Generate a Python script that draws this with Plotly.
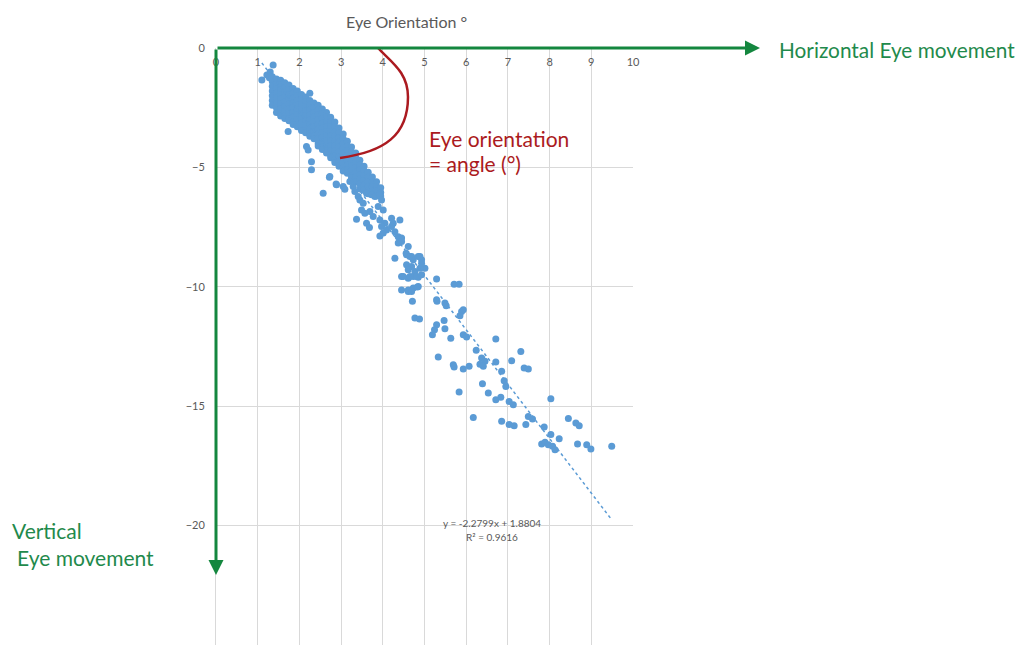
import plotly.graph_objects as go

# ---- data ----
x_ticks = [0, 1, 2, 3, 4, 5, 6, 7, 8, 9, 10]
y_ticks = [0, -5, -10, -15, -20, -25]

# dense band of points (x, y)
cluster_points = [
    (1.10, -1.34), (1.22, -1.13), (1.30, -1.00), (1.37, -0.71), (1.28, -1.25),
    (1.35, -1.2), (1.35, -1.4), (1.35, -1.6), (1.35, -1.8), (1.35, -2.0), (1.35, -2.2), (1.35, -2.4),
    (1.45, -1.3), (1.45, -1.5), (1.45, -1.7), (1.45, -1.9), (1.45, -2.1), (1.45, -2.3), (1.45, -2.5), (1.45, -2.7),
    (1.55, -1.35), (1.55, -1.55), (1.55, -1.75), (1.55, -1.95), (1.55, -2.15), (1.55, -2.35), (1.55, -2.55), (1.55, -2.75), (1.55, -2.85),
    (1.65, -1.45), (1.65, -1.65), (1.65, -1.85), (1.65, -2.05), (1.65, -2.25), (1.65, -2.45), (1.65, -2.65), (1.65, -2.85), (1.65, -2.95),
    (1.75, -1.55), (1.75, -1.75), (1.75, -1.95), (1.75, -2.15), (1.75, -2.35), (1.75, -2.55), (1.75, -2.75), (1.75, -2.95), (1.75, -3.05),
    (1.85, -1.7), (1.85, -1.9), (1.85, -2.1), (1.85, -2.3), (1.85, -2.5), (1.85, -2.7), (1.85, -2.9), (1.85, -3.1), (1.85, -3.2),
    (1.95, -1.8), (1.95, -2.0), (1.95, -2.2), (1.95, -2.4), (1.95, -2.6), (1.95, -2.8), (1.95, -3.0), (1.95, -3.2), (1.95, -3.3),
    (2.05, -1.95), (2.05, -2.15), (2.05, -2.35), (2.05, -2.55), (2.05, -2.75), (2.05, -2.95), (2.05, -3.15), (2.05, -3.35), (2.05, -3.45),
    (2.15, -2.05), (2.15, -2.25), (2.15, -2.45), (2.15, -2.65), (2.15, -2.85), (2.15, -3.05), (2.15, -3.25), (2.15, -3.45), (2.15, -3.55),
    (2.25, -2.2), (2.25, -2.4), (2.25, -2.6), (2.25, -2.8), (2.25, -3.0), (2.25, -3.2), (2.25, -3.4), (2.25, -3.6), (2.25, -3.7),
    (2.35, -2.3), (2.35, -2.5), (2.35, -2.7), (2.35, -2.9), (2.35, -3.1), (2.35, -3.3), (2.35, -3.5), (2.35, -3.7), (2.35, -3.8),
    (2.45, -2.4), (2.45, -2.6), (2.45, -2.8), (2.45, -3.0), (2.45, -3.2), (2.45, -3.4), (2.45, -3.6), (2.45, -3.8), (2.45, -4.0), (2.45, -4.1),
    (2.55, -2.55), (2.55, -2.75), (2.55, -2.95), (2.55, -3.15), (2.55, -3.35), (2.55, -3.55), (2.55, -3.75), (2.55, -3.95), (2.55, -4.15), (2.55, -4.25),
    (2.65, -2.7), (2.65, -2.9), (2.65, -3.1), (2.65, -3.3), (2.65, -3.5), (2.65, -3.7), (2.65, -3.9), (2.65, -4.1), (2.65, -4.3), (2.65, -4.4),
    (2.75, -2.9), (2.75, -3.1), (2.75, -3.3), (2.75, -3.5), (2.75, -3.7), (2.75, -3.9), (2.75, -4.1), (2.75, -4.3), (2.75, -4.5), (2.75, -4.6),
    (2.85, -3.1), (2.85, -3.3), (2.85, -3.5), (2.85, -3.7), (2.85, -3.9), (2.85, -4.1), (2.85, -4.3), (2.85, -4.5), (2.85, -4.7), (2.85, -4.8),
    (2.95, -3.35), (2.95, -3.55), (2.95, -3.75), (2.95, -3.95), (2.95, -4.15), (2.95, -4.35), (2.95, -4.55), (2.95, -4.75), (2.95, -4.95),
    (3.05, -3.6), (3.05, -3.8), (3.05, -4.0), (3.05, -4.2), (3.05, -4.4), (3.05, -4.6), (3.05, -4.8), (3.05, -5.0), (3.05, -5.15),
    (3.15, -3.9), (3.15, -4.1), (3.15, -4.3), (3.15, -4.5), (3.15, -4.7), (3.15, -4.9), (3.15, -5.1), (3.15, -5.25),
    (3.25, -4.15), (3.25, -4.35), (3.25, -4.55), (3.25, -4.75), (3.25, -4.95), (3.25, -5.15), (3.25, -5.35), (3.25, -5.45),
    (3.35, -4.4), (3.35, -4.6), (3.35, -4.8), (3.35, -5.0), (3.35, -5.2), (3.35, -5.4), (3.35, -5.6),
    (3.45, -4.7), (3.45, -4.9), (3.45, -5.1), (3.45, -5.3), (3.45, -5.5), (3.45, -5.7), (3.45, -5.9),
    (3.55, -4.95), (3.55, -5.15), (3.55, -5.35), (3.55, -5.55), (3.55, -5.75), (3.55, -5.95),
    (3.65, -5.2), (3.65, -5.4), (3.65, -5.6), (3.65, -5.8), (3.65, -6.0), (3.65, -6.1),
    (3.75, -5.4), (3.75, -5.6), (3.75, -5.8), (3.75, -6.0), (3.75, -6.1),
    (3.85, -5.6), (3.85, -5.8), (3.85, -6.0), (3.85, -6.2),
    (3.95, -5.85), (3.95, -6.05), (3.95, -6.2),
]

# scattered points outside the dense band (x, y)
sparse_points = [
    (2.25, -1.90), (1.73, -3.50), (2.17, -4.13), (2.21, -4.27), (2.29, -4.76), (2.29, -5.10),
    (2.72, -5.41), (2.89, -5.73), (2.57, -6.08),
    (2.73, -5.38), (2.88, -5.70), (3.05, -5.80), (3.09, -5.91), (3.21, -5.59), (3.29, -5.80),
    (3.33, -6.01), (3.41, -6.22), (3.45, -6.36), (3.53, -6.50), (3.61, -6.08), (3.73, -6.15),
    (3.81, -6.22), (3.92, -6.15), (3.97, -6.36), (3.89, -6.64), (4.01, -6.78), (3.37, -7.17),
    (3.61, -7.34), (3.68, -7.52), (3.49, -6.78), (3.57, -6.92), (3.69, -6.85), (3.77, -7.06),
    (3.93, -7.20), (4.05, -7.34), (4.21, -7.13), (4.25, -7.34), (4.41, -7.20), (3.97, -7.48),
    (4.09, -7.62), (4.21, -7.48), (4.29, -7.69), (4.37, -7.90), (4.45, -7.96), (4.37, -8.17),
    (4.45, -8.10), (3.93, -7.87), (4.01, -7.75), (4.29, -8.80),
    (4.56, -8.59), (4.61, -8.31), (4.65, -8.73), (4.73, -8.87), (4.85, -8.73), (4.93, -8.87),
    (5.01, -9.22), (4.57, -9.08), (4.69, -9.15), (4.61, -9.29), (4.77, -9.36), (4.89, -9.22),
    (4.45, -9.57), (4.61, -9.64), (4.73, -9.57), (4.85, -9.60), (4.45, -10.13), (4.61, -10.20),
    (4.73, -10.05), (4.85, -9.99), (4.57, -8.66), (4.69, -8.73), (4.89, -8.73), (4.93, -9.01),
    (4.49, -9.57), (4.65, -9.57), (4.81, -9.57), (4.93, -9.50), (4.61, -10.13), (4.69, -10.20),
    (4.83, -10.01),
    (5.29, -9.67), (5.71, -9.89), (5.83, -9.89), (5.29, -10.54), (5.30, -10.61), (5.49, -10.68),
    (5.52, -10.79), (5.89, -11.03), (5.93, -10.96), (5.85, -11.21), (5.47, -11.41), (5.29, -11.59),
    (5.24, -11.80), (5.19, -12.01), (5.49, -11.76), (5.93, -12.01), (6.01, -12.10), (5.63, -12.15),
    (6.71, -12.19), (4.77, -11.31), (4.88, -11.35), (4.71, -10.61), (6.24, -12.66), (7.31, -12.71),
    (7.09, -13.10), (6.71, -13.15), (6.37, -12.98), (6.45, -13.12), (6.33, -13.24), (6.41, -13.33),
    (5.33, -12.94), (5.69, -13.26), (5.71, -13.36), (5.93, -13.44), (6.07, -13.33), (7.39, -13.40),
    (7.49, -13.44), (6.85, -13.54), (6.91, -13.93), (6.95, -14.17), (5.83, -14.41), (6.39, -14.06),
    (6.53, -14.45), (6.71, -14.73), (6.83, -14.63), (7.03, -14.80), (7.13, -14.94), (8.03, -14.69),
    (6.17, -15.47), (6.85, -15.63), (7.03, -15.77), (7.15, -15.82), (7.43, -15.77), (7.49, -15.43),
    (7.59, -15.54), (7.87, -15.87), (8.45, -15.52), (8.63, -15.70), (8.71, -15.82), (8.03, -16.19),
    (8.23, -16.36), (7.81, -16.58), (7.89, -16.51), (7.97, -16.61), (8.07, -16.68), (8.13, -16.82),
    (8.67, -16.58), (8.89, -16.61), (8.99, -16.79), (9.49, -16.68),
]

trend_slope = -2.2799
trend_intercept = 1.8804
r_squared = 0.9616

# ---- figure ----
all_points = cluster_points + sparse_points
xs = [p[0] for p in all_points]
ys = [p[1] for p in all_points]

x_lo, x_hi = min(xs), max(xs)
trend_x = [x_lo, x_hi]
trend_y = [trend_slope * v + trend_intercept for v in trend_x]

BLUE = "#5b9bd5"
GRID = "#d9d9d9"
GRAY = "#595959"
GREEN = "#14873f"
GREEN_TXT = "#1f8a4c"
RED = "#ab1a20"
FONT = "Lato"

fig = go.Figure()
fig.add_trace(go.Scatter(
    x=xs, y=ys, mode="markers",
    marker=dict(color=BLUE, size=7, line=dict(width=0)),
    showlegend=False, hoverinfo="skip",
))
fig.add_trace(go.Scatter(
    x=trend_x, y=trend_y, mode="lines",
    line=dict(color=BLUE, width=1.5, dash="dot"),
    showlegend=False, hoverinfo="skip",
))

# page body has an 8px margin: figure is 1016x638 placed at (8,8)
fig.update_layout(
    width=1016, height=638,
    margin=dict(l=208, r=391, t=40, b=1),
    paper_bgcolor="white", plot_bgcolor="white",
    font=dict(family=FONT, color=GRAY),
    xaxis=dict(
        range=[0, 10], tickvals=x_ticks,
        anchor="free", position=1, side="bottom",
        ticklabelstandoff=6,
        tickfont=dict(size=11, color=GRAY),
        showgrid=True, gridcolor=GRID, gridwidth=1,
        zeroline=False, showline=False, ticks="",
    ),
    yaxis=dict(
        range=[-25, 0], tickvals=y_ticks,
        tickfont=dict(size=11, color=GRAY),
        showgrid=True, gridcolor=GRID, gridwidth=1,
        zeroline=False, showline=True, linecolor=GRID, linewidth=1,
        ticks="", ticklabelstandoff=8,
    ),
)

# red arc for the orientation angle
fig.add_shape(
    type="path", xref="x", yref="y",
    path="M 3.885,0 C 4.197,-0.586 4.604,-1.004 4.604,-2.05 "
         "C 4.604,-3.64 4.053,-4.351 2.974,-4.603",
    line=dict(color=RED, width=2.5),
)

annotations = [
    dict(text="Eye Orientation °", xref="paper", yref="paper", x=0.456, y=1.0436,
         xanchor="center", yanchor="middle", showarrow=False,
         font=dict(size=16, color=GRAY, family=FONT)),
    dict(text="", xref="paper", yref="paper", x=1.3046, y=1.0,
         ax=-544, ay=0, showarrow=True, arrowhead=2, arrowsize=1,
         arrowwidth=3, arrowcolor=GREEN, standoff=0, startstandoff=0),
    dict(text="", xref="paper", yref="paper", x=0.0, y=0.1173,
         ax=0, ay=-527, showarrow=True, arrowhead=2, arrowsize=1,
         arrowwidth=3, arrowcolor=GREEN, standoff=0, startstandoff=0),
    dict(text="Horizontal Eye movement", xref="paper", yref="paper", x=1.346, y=0.998,
         xanchor="left", yanchor="middle", showarrow=False,
         font=dict(size=20.8, color=GREEN_TXT, family=FONT)),
    dict(text="Vertical", xref="paper", yref="paper", x=-0.493, y=0.1926,
         xanchor="left", yanchor="middle", showarrow=False,
         font=dict(size=21, color=GREEN_TXT, family=FONT)),
    dict(text="Eye movement", xref="paper", yref="paper", x=-0.481, y=0.1474,
         xanchor="left", yanchor="middle", showarrow=False,
         font=dict(size=21, color=GREEN_TXT, family=FONT)),
    dict(text="Eye orientation", xref="paper", yref="paper", x=0.505, y=0.849,
         xanchor="left", yanchor="middle", showarrow=False,
         font=dict(size=21, color=RED, family=FONT)),
    dict(text="= angle (°)", xref="paper", yref="paper", x=0.505, y=0.807,
         xanchor="left", yanchor="middle", showarrow=False,
         font=dict(size=21, color=RED, family=FONT)),
    dict(text=f"y = {trend_slope}x + {trend_intercept}", xref="x", yref="y",
         x=6.63, y=-19.89, xanchor="center", yanchor="middle", showarrow=False,
         font=dict(size=10, color=GRAY, family=FONT)),
    dict(text=f"R² = {r_squared}", xref="x", yref="y",
         x=6.63, y=-20.49, xanchor="center", yanchor="middle", showarrow=False,
         font=dict(size=10, color=GRAY, family=FONT)),
]
fig.update_layout(annotations=annotations)

fig.write_html("out.html")
